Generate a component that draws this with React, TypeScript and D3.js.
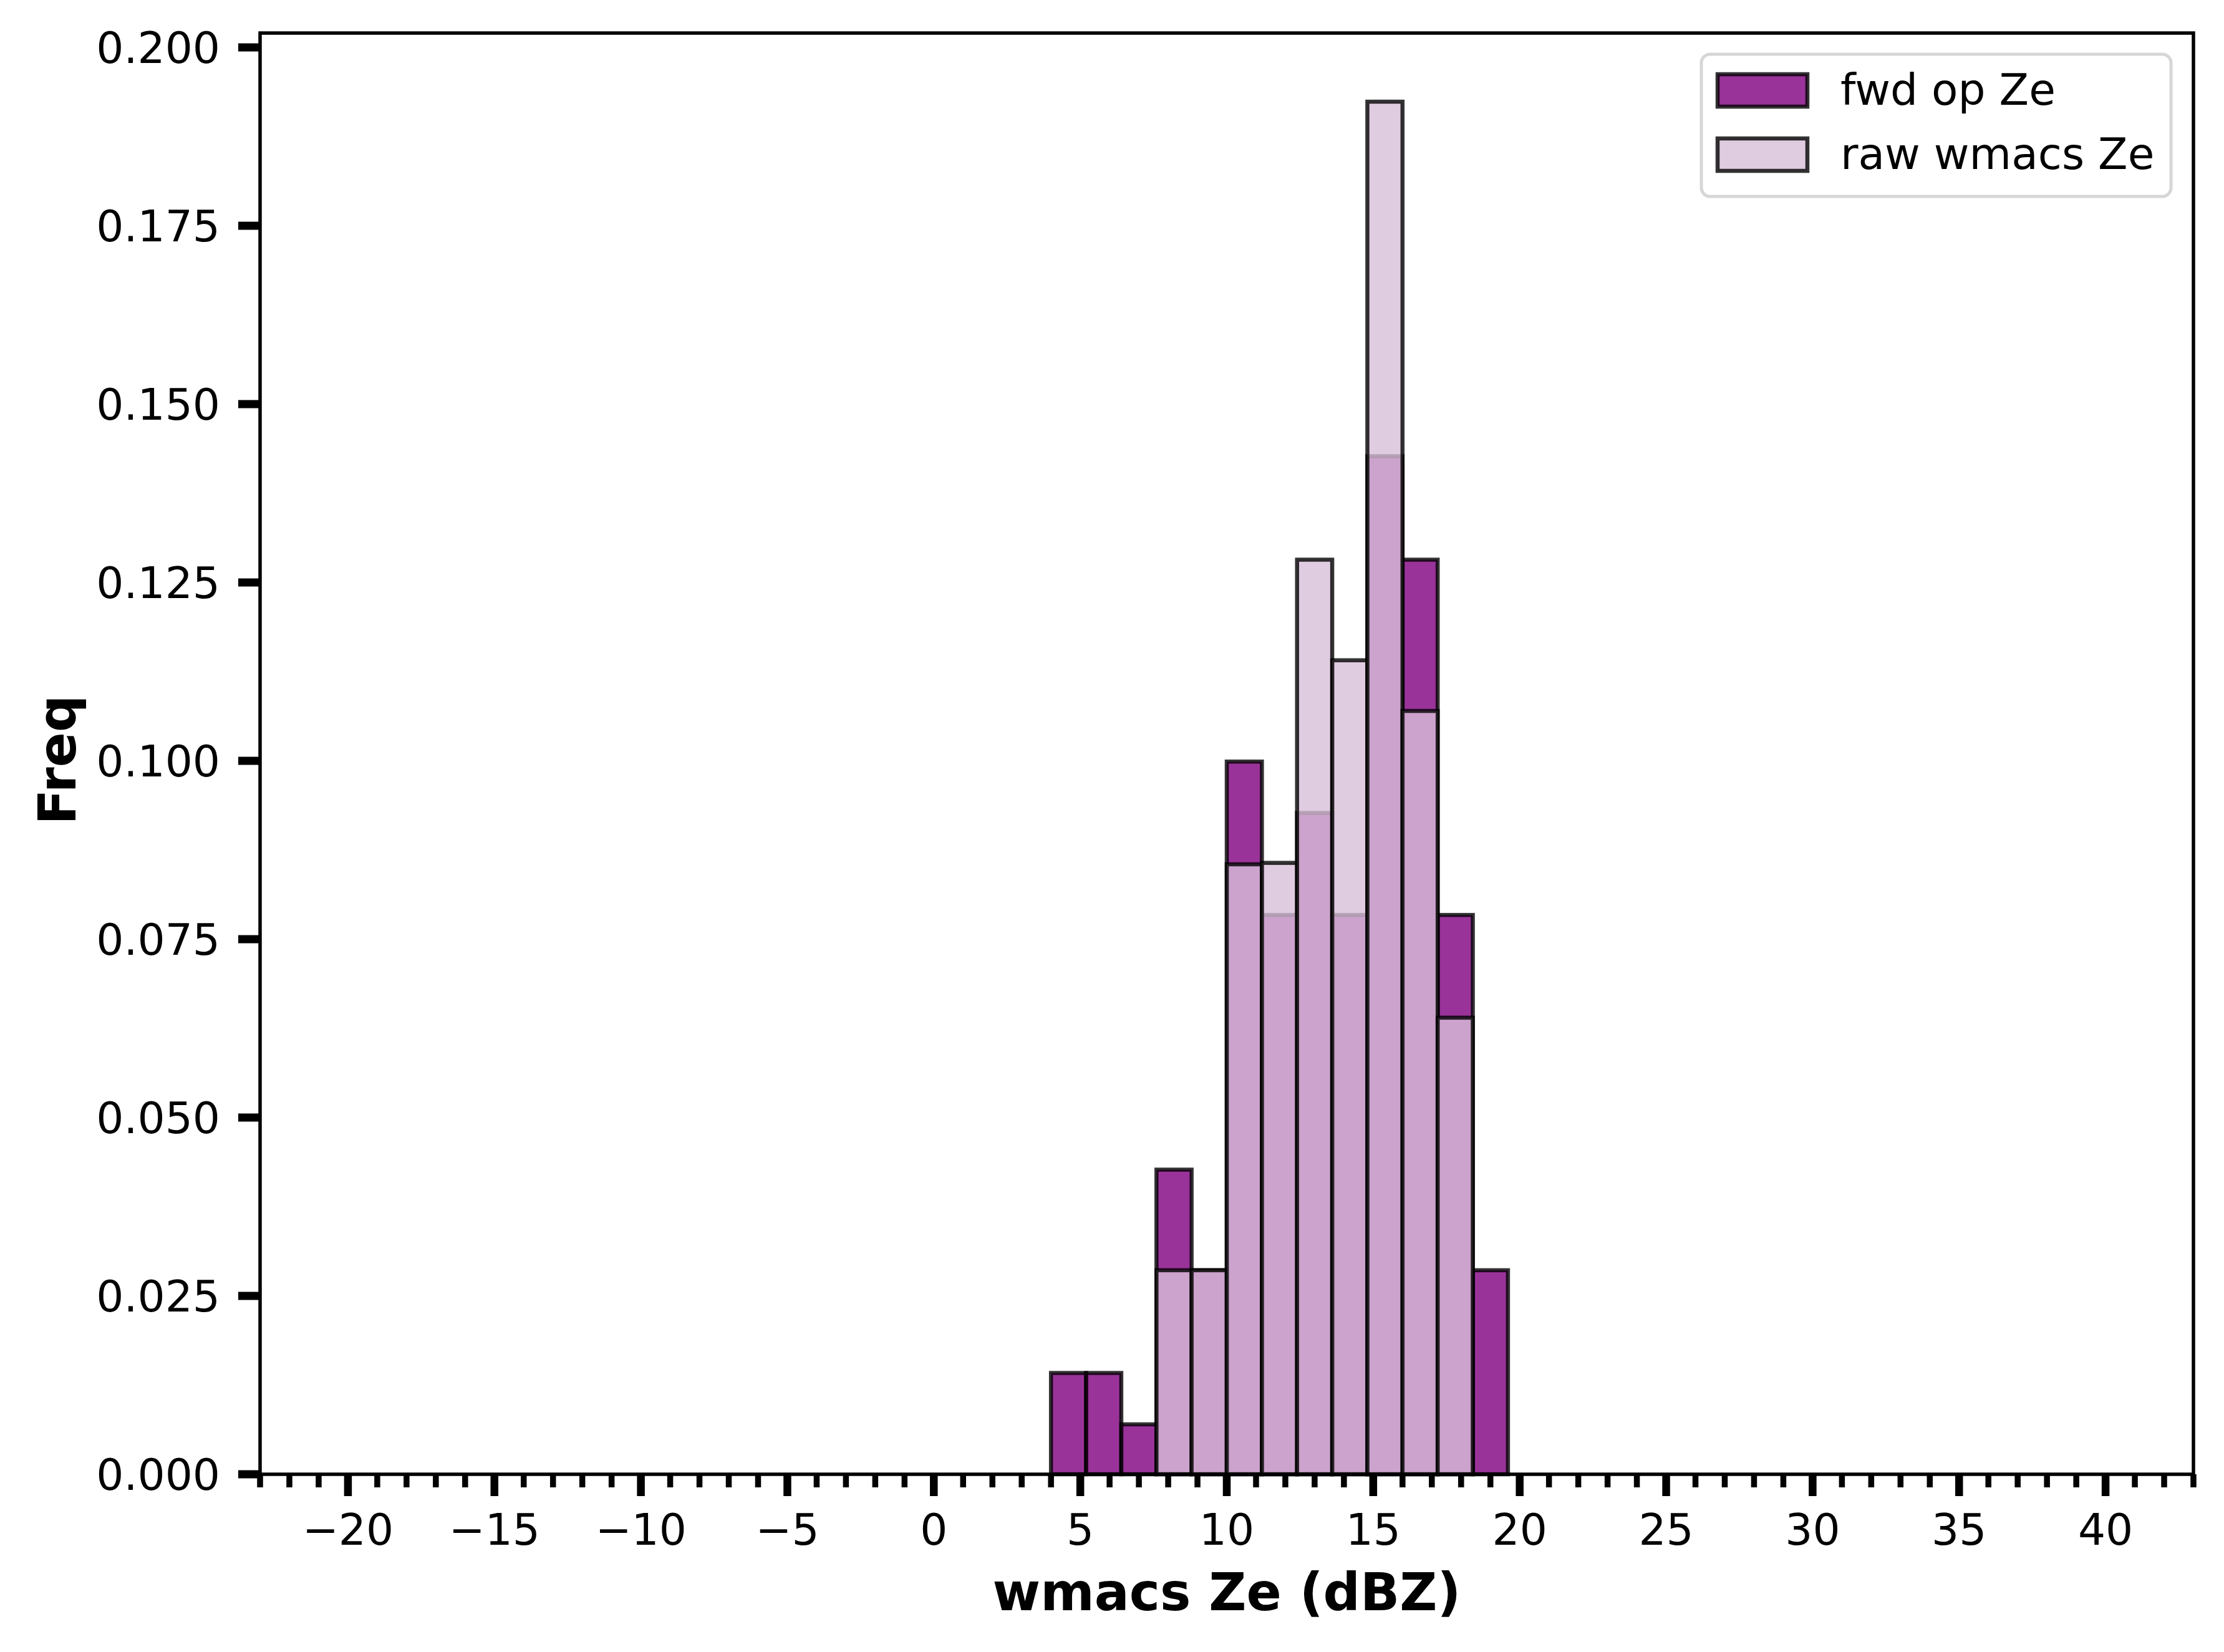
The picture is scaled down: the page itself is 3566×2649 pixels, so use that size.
import { useRef, useEffect } from 'react'
import * as d3 from 'd3'

// bin edges (dBZ) shared by both histograms
const BIN_EDGES = [4.0, 5.2, 6.4, 7.6, 8.8, 10.0, 11.2, 12.4, 13.6, 14.8, 16.0, 17.2, 18.4, 19.6]
// density per bin
const FWD_OP = [0.0142, 0.0142, 0.0070, 0.0427, 0.0286, 0.0999, 0.0784, 0.0927, 0.0784, 0.1427, 0.1282, 0.0784, 0.0286]
const RAW_WMACS = [0, 0, 0, 0.0286, 0.0286, 0.0855, 0.0857, 0.1282, 0.1141, 0.1924, 0.1070, 0.0640, 0]
const SERIES_NAMES = ['fwd op Ze', 'raw wmacs Ze']
const X_DOMAIN = [-23, 43]
const X_MAJOR = [-20, -15, -10, -5, 0, 5, 10, 15, 20, 25, 30, 35, 40]
const Y_TICKS = [0, 0.025, 0.05, 0.075, 0.1, 0.125, 0.15, 0.175, 0.2]

const W = 3566
const H = 2649
const FONT = '"DejaVu Sans", sans-serif'
const COLORS = ['#800080', '#d8bfd8']

export default function App() {
  const svgRef = useRef<SVGSVGElement>(null)

  useEffect(() => {
    if (!svgRef.current) return
    document.body.style.margin = '0'
    const svg = d3.select(svgRef.current)
    svg.selectAll('*').remove()

    const m = { left: 417, right: 3517, top: 53, bottom: 2364 }
    const yMax = d3.max([...FWD_OP, ...RAW_WMACS])! * 1.05

    const x = d3.scaleLinear().domain(X_DOMAIN).range([m.left, m.right])
    const y = d3.scaleLinear().domain([0, yMax]).range([m.bottom, m.top])

    svg.append('rect').attr('width', W).attr('height', H).attr('fill', '#fff')

    // histogram bars: fwd op first, raw drawn over it
    const drawBars = (vals: number[], color: string) => {
      const bins = vals.map((v, i) => ({ x0: BIN_EDGES[i], x1: BIN_EDGES[i + 1], v })).filter(d => d.v > 0)
      svg.append('g')
        .selectAll('rect')
        .data(bins)
        .join('rect')
        .attr('x', d => x(d.x0))
        .attr('width', d => x(d.x1) - x(d.x0))
        .attr('y', d => y(d.v))
        .attr('height', d => y(0) - y(d.v))
        .attr('fill', color).attr('fill-opacity', 0.8)
        .attr('stroke', '#000').attr('stroke-opacity', 0.8).attr('stroke-width', 6.5)
    }
    drawBars(FWD_OP, COLORS[0])
    drawBars(RAW_WMACS, COLORS[1])

    // spines
    svg.append('rect')
      .attr('x', m.left).attr('y', m.top)
      .attr('width', m.right - m.left).attr('height', m.bottom - m.top)
      .attr('fill', 'none').attr('stroke', '#000').attr('stroke-width', 5.5)

    // x ticks
    const minor = d3.range(X_DOMAIN[0], X_DOMAIN[1] + 1).filter(v => !X_MAJOR.includes(v))
    svg.append('g').selectAll('line').data(minor).join('line')
      .attr('x1', d => x(d)).attr('x2', d => x(d))
      .attr('y1', m.bottom).attr('y2', m.bottom + 21)
      .attr('stroke', '#000').attr('stroke-width', 9.5)
    svg.append('g').selectAll('line').data(X_MAJOR).join('line')
      .attr('x1', d => x(d)).attr('x2', d => x(d))
      .attr('y1', m.bottom).attr('y2', m.bottom + 35)
      .attr('stroke', '#000').attr('stroke-width', 12.5)
    svg.append('g').selectAll('text').data(X_MAJOR).join('text')
      .attr('x', d => x(d)).attr('y', 2477)
      .attr('text-anchor', 'middle')
      .style('font-family', FONT).style('font-size', '69.4px')
      .text(d => (d < 0 ? '\u2212' + Math.abs(d) : String(d)))

    // y ticks
    svg.append('g').selectAll('line').data(Y_TICKS).join('line')
      .attr('x1', m.left - 35).attr('x2', m.left)
      .attr('y1', d => y(d)).attr('y2', d => y(d))
      .attr('stroke', '#000').attr('stroke-width', 13)
    svg.append('g').selectAll('text').data(Y_TICKS).join('text')
      .attr('x', 353).attr('y', d => y(d) + 25)
      .attr('text-anchor', 'end')
      .style('font-family', FONT).style('font-size', '69.4px')
      .text(d => d3.format('.3f')(d))

    // axis labels
    svg.append('text')
      .attr('x', (m.left + m.right) / 2).attr('y', 2582)
      .attr('text-anchor', 'middle')
      .style('font-family', FONT).style('font-size', '83px').style('font-weight', 'bold')
      .text('wmacs Ze (dBZ)')
    svg.append('text')
      .attr('transform', `translate(121,${(m.top + m.bottom) / 2 + 10}) rotate(-90)`)
      .attr('text-anchor', 'middle')
      .style('font-family', FONT).style('font-size', '83px').style('font-weight', 'bold')
      .text('Freq')

    // legend
    const lg = svg.append('g')
    lg.append('rect')
      .attr('x', 2728).attr('y', 87).attr('width', 753).attr('height', 228)
      .attr('rx', 14).attr('fill', '#fff').attr('fill-opacity', 0.8)
      .attr('stroke', '#d6d6d6').attr('stroke-width', 5)
    SERIES_NAMES.forEach((name, i) => {
      const cy = 145 + i * 103
      lg.append('rect')
        .attr('x', 2754).attr('y', cy - 26).attr('width', 144).attr('height', 52)
        .attr('fill', COLORS[i]).attr('fill-opacity', 0.8)
        .attr('stroke', '#000').attr('stroke-opacity', 0.8).attr('stroke-width', 6.5)
      lg.append('text')
        .attr('x', 2951).attr('y', cy + 23)
        .style('font-family', FONT).style('font-size', '69.4px')
        .text(name)
    })
  }, [])

  return (
    <svg ref={svgRef} width={W} height={H} viewBox={`0 0 ${W} ${H}`}
      style={{ display: 'block', position: 'absolute', left: 0, top: 0 }} />
  )
}
